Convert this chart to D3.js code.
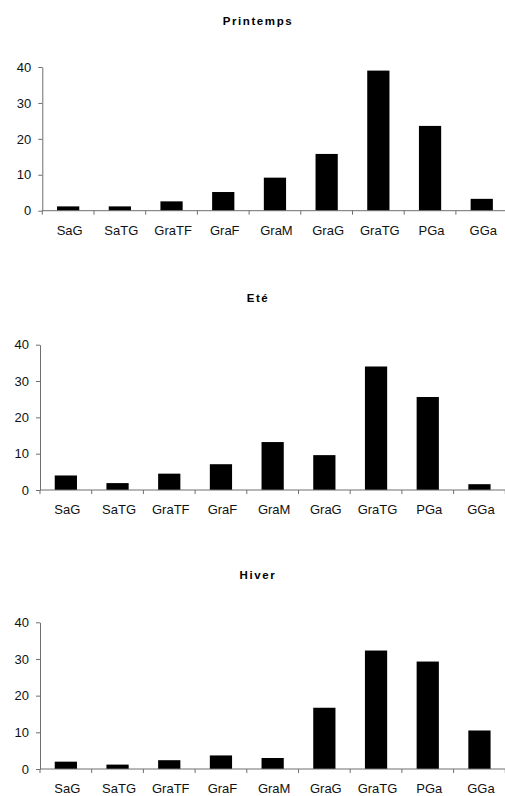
<!DOCTYPE html>
<html><head><meta charset="utf-8">
<script src="https://cdn.jsdelivr.net/npm/d3@7"></script>
<style>
html,body{margin:0;padding:0;background:#fff;overflow:hidden}
svg{display:block}
</style></head>
<body>
<script>
const categories = ["SaG","SaTG","GraTF","GraF","GraM","GraG","GraTG","PGa","GGa"];
const printemps = [1.2, 1.2, 2.6, 5.2, 9.2, 15.8, 39.0, 23.6, 3.3];
const ete       = [4.0, 1.9, 4.5, 7.1, 13.2, 9.6, 34.0, 25.6, 1.6];
const hiver     = [2.0, 1.2, 2.4, 3.7, 3.0, 16.7, 32.3, 29.3, 10.5];
const yTicks = [0, 10, 20, 30, 40];
const titles = ["Printemps", "Eté", "Hiver"];

const W = 505, H = 796;
const svg = d3.select("body").append("svg").attr("width", W).attr("height", H);

const panels = [
  {title: titles[0], values: printemps, x0: 42.3, y0: 210.7, y40: 67,    ty: 21},
  {title: titles[1], values: ete,       x0: 40,   y0: 490,   y40: 344.7, ty: 298},
  {title: titles[2], values: hiver,     x0: 40,   y0: 769,   y40: 622.3, ty: 575}
];
const axisColor = "#6e6e6e";
const font = "'Liberation Sans', Arial, sans-serif";

panels.forEach(p => {
  const g = svg.append("g");
  const x = d3.scaleBand().domain(categories).range([p.x0, p.x0 + 51.7 * 9]).padding(0);
  const y = d3.scaleLinear().domain([0, 40]).range([p.y0, p.y40]);
  const bw = x.bandwidth() * 0.43;

  g.append("text")
    .attr("x", 258).attr("y", p.ty).attr("dy", "0.35em")
    .attr("text-anchor", "middle")
    .style("font-family", font).style("font-size", "11.5px").style("font-weight", "bold")
    .style("letter-spacing", "1.6px")
    .text(p.title);

  g.selectAll("rect").data(p.values).join("rect")
    .attr("x", (d, i) => x(categories[i]) + (x.bandwidth() - bw) / 2)
    .attr("width", bw)
    .attr("y", d => y(d))
    .attr("height", d => y(0) - y(d))
    .attr("fill", "#000");

  // y axis
  const ya = g.append("g").attr("transform", `translate(${p.x0},0)`)
    .call(d3.axisLeft(y).tickValues(yTicks).tickSize(4).tickPadding(7).tickSizeOuter(0));
  ya.select(".domain").attr("stroke", axisColor);
  ya.selectAll(".tick line").attr("stroke", axisColor);
  ya.selectAll("text").style("font-family", font).style("font-size", "13px").attr("fill", "#111");

  // x axis line and tick marks at band boundaries
  const xa = g.append("g");
  xa.append("line").attr("x1", p.x0).attr("x2", W).attr("y1", y(0)).attr("y2", y(0))
    .attr("stroke", axisColor);
  const bounds = categories.map(c => x(c)).concat([x.range()[1]]);
  xa.selectAll("line.tk").data(bounds).join("line").attr("class", "tk")
    .attr("x1", d => d).attr("x2", d => d)
    .attr("y1", y(0)).attr("y2", y(0) + 4)
    .attr("stroke", axisColor);
  xa.selectAll("text").data(categories).join("text")
    .attr("x", d => x(d) + x.bandwidth() / 2 + 1.5)
    .attr("y", y(0) + 19.5).attr("dy", "0.35em")
    .attr("text-anchor", "middle")
    .style("font-family", font).style("font-size", "13px").attr("fill", "#111")
    .text(d => d);
});
</script>
</body></html>
